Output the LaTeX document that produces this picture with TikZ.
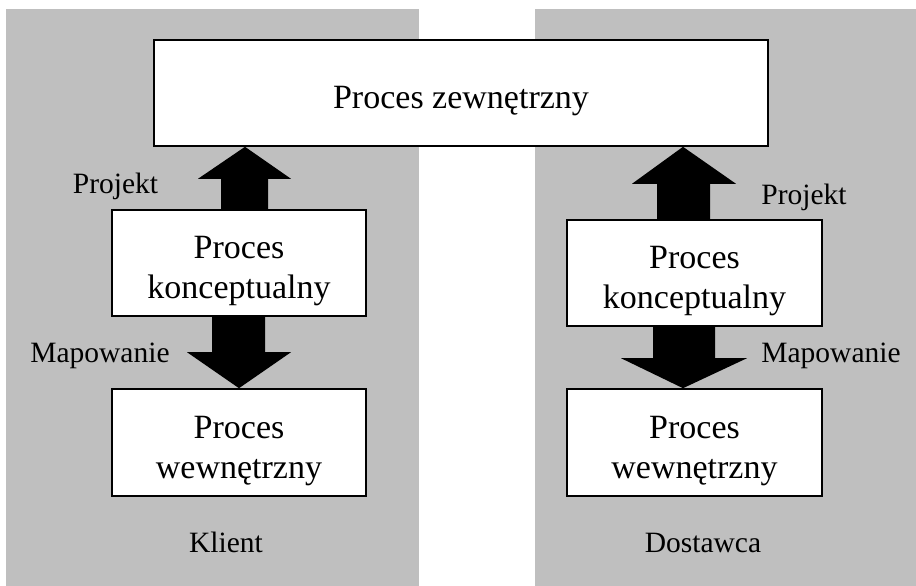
\documentclass[tikz,border=0pt]{standalone}
\usepackage{fontspec}
\setmainfont{Liberation Serif}
\usetikzlibrary{calc}
\definecolor{panelgray}{RGB}{191,191,191}
% tall strut that lowers the text block inside a box
\newcommand{\boxstrut}{\rule{0pt}{39pt}}
\begin{document}
\begin{tikzpicture}[x=1pt,y=-1pt,
  panel/.style={fill=panelgray,draw=none},
  procbox/.style={draw=black,fill=white,line width=1.6pt,align=center,
    inner sep=0pt,font=\fontsize{34}{40}\selectfont},
  lbl/.style={inner sep=0pt,anchor=base,font=\fontsize{29.5}{35}\selectfont},
  blockarrow/.style={fill=black,draw=none}]
  % canvas
  \useasboundingbox (0,0) rectangle (916,586);
  % side panels
  \fill[panel] (6,9) rectangle (419,586);
  \fill[panel] (535,9) rectangle (916,586);

  % process boxes
  \node[procbox,minimum width=614pt,minimum height=106pt] (top) at (461,93) {\boxstrut Proces zewnętrzny};
  \node[procbox,minimum width=254pt,minimum height=106pt] (lc) at (239,263) {\boxstrut Proces\\konceptualny};
  \node[procbox,minimum width=254pt,minimum height=107pt] (li) at (239,442.5) {\boxstrut Proces\\wewnętrzny};
  \node[procbox,minimum width=255pt,minimum height=106pt] (rc) at (694.5,273) {\boxstrut Proces\\konceptualny};
  \node[procbox,minimum width=255pt,minimum height=107pt] (ri) at (694.5,442.5) {\boxstrut Proces\\wewnętrzny};

  % block arrows, left side
  \coordinate (ltip) at (top.south -| lc.north);
  \fill[blockarrow] ($(lc.north)+(-18,0)$) -- ($(ltip)+(-18,32)$) -- ($(ltip)+(-41,32)$)
    -- ($(ltip)+(6,0)$) -- ($(ltip)+(52,32)$) -- ($(ltip)+(29,32)$) -- ($(lc.north)+(29,0)$) -- cycle;
  \fill[blockarrow] ($(lc.south)+(-27,0)$) -- ($(li.north)+(-27,-36)$) -- ($(li.north)+(-52,-36)$)
    -- (li.north) -- ($(li.north)+(52,-36)$) -- ($(li.north)+(26,-36)$) -- ($(lc.south)+(26,0)$) -- cycle;

  % block arrows, right side
  \coordinate (rtip) at (top.south -| rc.north);
  \fill[blockarrow] ($(rc.north)+(-37.5,0)$) -- ($(rtip)+(-37.5,37)$) -- ($(rtip)+(-62.5,37)$)
    -- ($(rtip)+(-11.5,0)$) -- ($(rtip)+(41.5,37)$) -- ($(rtip)+(15.5,37)$) -- ($(rc.north)+(15.5,0)$) -- cycle;
  \fill[blockarrow] ($(rc.south)+(-41.5,0)$) -- ($(ri.north)+(-41.5,-30)$) -- ($(ri.north)+(-73.5,-30)$)
    -- ($(ri.north)+(-11.5,0)$) -- ($(ri.north)+(52.5,-30)$) -- ($(ri.north)+(20.5,-30)$) -- ($(rc.south)+(20.5,0)$) -- cycle;

  % labels
  \node[lbl] (pl) at (115.5,193) {Projekt};
  \node[lbl] (ml) at (100,362) {Mapowanie};
  \node[lbl] (pr) at (804,204) {Projekt};
  \node[lbl] (mr) at (831,362) {Mapowanie};
  \node[lbl] (kl) at (226,552) {Klient};
  \node[lbl] (ds) at (703,552) {Dostawca};
\end{tikzpicture}
\end{document}
